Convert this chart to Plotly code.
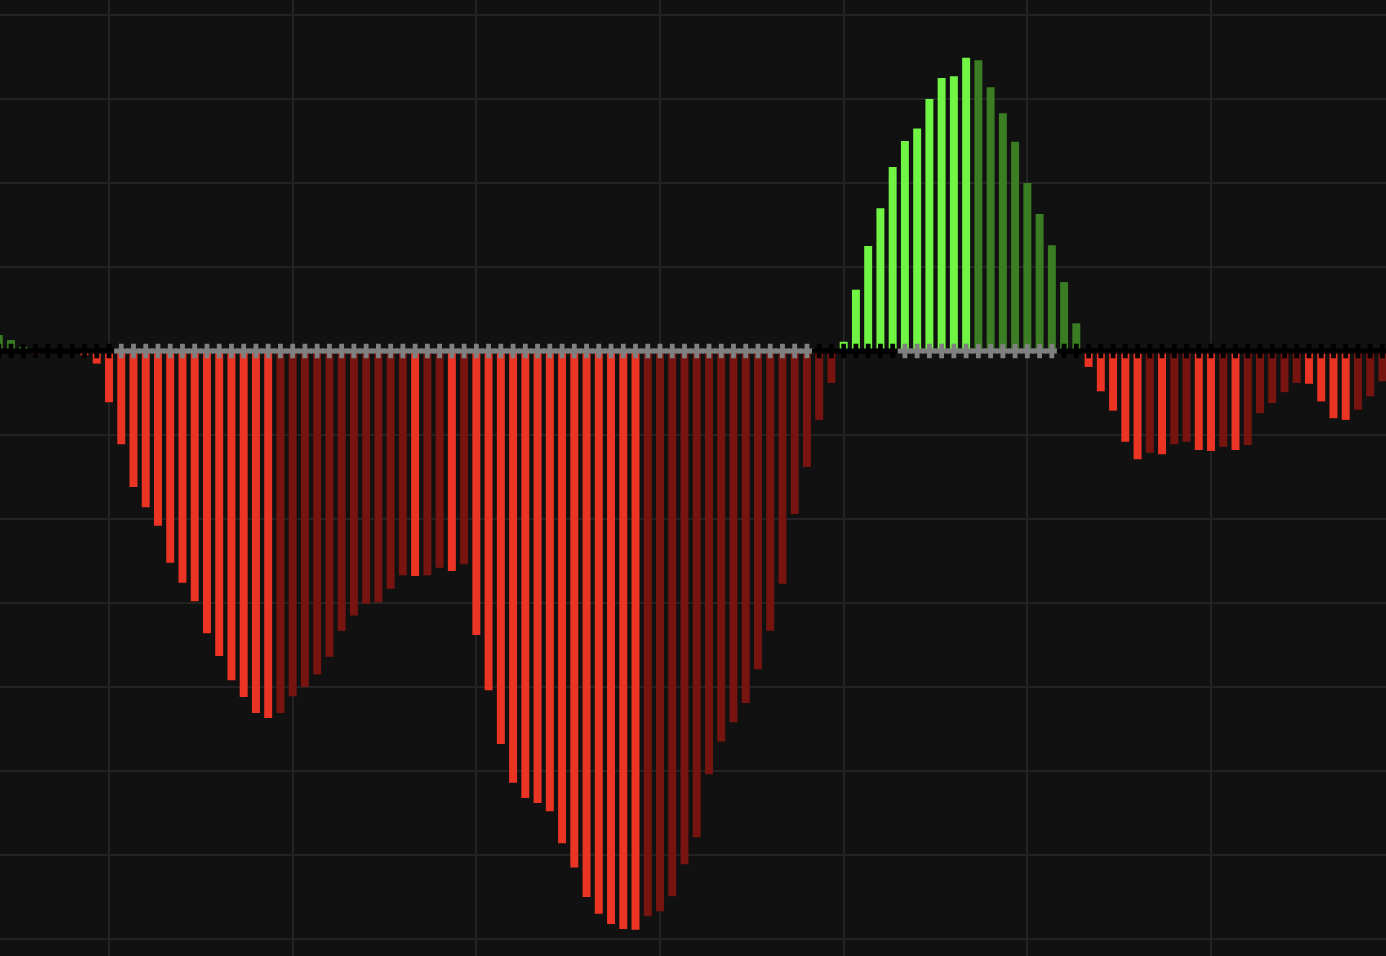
import plotly.graph_objects as go

# Momentum histogram values (one per bar)
momentum = [
    1.9, 1.3, 0.5, -0.3, -0.3, -0.1, -0.1, -0.5, -1.5, -6.1,
    -11.1, -16.2, -18.6, -20.8, -25.2, -27.6, -29.8, -33.6, -36.3, -39.2,
    -41.2, -43.1, -43.7, -43.1, -41.1, -40.0, -38.5, -36.4, -33.3, -31.5,
    -30.1, -29.9, -28.3, -26.7, -26.8, -26.7, -25.8, -26.2, -25.4, -33.8,
    -40.4, -46.8, -51.4, -53.2, -53.8, -54.8, -58.6, -61.5, -65.0, -67.0,
    -68.2, -68.8, -68.9, -67.3, -66.7, -64.9, -61.1, -57.9, -50.4, -46.5,
    -44.2, -41.9, -37.9, -33.3, -27.7, -19.4, -13.8, -8.2, -3.8, 1.1,
    7.3, 12.5, 17.0, 21.9, 25.0, 26.5, 30.0, 32.5, 32.7, 34.9,
    34.6, 31.4, 28.3, 24.9, 20.0, 16.3, 12.6, 8.2, 3.3, -1.9,
    -4.8, -7.1, -10.8, -12.9, -12.1, -12.3, -11.1, -10.8, -11.8, -11.9,
    -11.4, -11.8, -11.2, -7.4, -6.2, -4.9, -3.8, -3.9, -6.0, -8.0,
    -8.2, -7.0, -5.4, -3.6,
]

# Squeeze state per bar (1 = squeeze on / grey cross, 0 = off / black cross)
squeeze_on = [
    0, 0, 0, 0, 0, 0, 0, 0, 0, 0,
    1, 1, 1, 1, 1, 1, 1, 1, 1, 1,
    1, 1, 1, 1, 1, 1, 1, 1, 1, 1,
    1, 1, 1, 1, 1, 1, 1, 1, 1, 1,
    1, 1, 1, 1, 1, 1, 1, 1, 1, 1,
    1, 1, 1, 1, 1, 1, 1, 1, 1, 1,
    1, 1, 1, 1, 1, 1, 1, 0, 0, 0,
    0, 0, 0, 0, 1, 1, 1, 1, 1, 1,
    1, 1, 1, 1, 1, 1, 1, 0, 0, 0,
    0, 0, 0, 0, 0, 0, 0, 0, 0, 0,
    0, 0, 0, 0, 0, 0, 0, 0, 0, 0,
    0, 0, 0, 0,
]

bar_index = list(range(len(momentum)))

BRIGHT_GREEN = "#70f545"
DARK_GREEN = "#3a7d22"
BRIGHT_RED = "#ec3424"
DARK_RED = "#771410"

colors = []
for k, v in enumerate(momentum):
    prev = momentum[k - 1] if k > 0 else v
    if v >= 0:
        colors.append(BRIGHT_GREEN if v > prev else DARK_GREEN)
    else:
        colors.append(BRIGHT_RED if v < prev else DARK_RED)

cross_colors = ["#808080" if s else "#000000" for s in squeeze_on]

fig = go.Figure()
fig.add_trace(go.Bar(
    x=bar_index, y=momentum,
    marker=dict(color=colors, line=dict(width=0)),
    hoverinfo="skip",
))
fig.add_trace(go.Scatter(
    x=bar_index, y=[0] * len(bar_index),
    mode="markers",
    marker=dict(symbol="cross", size=12, color=cross_colors, line=dict(width=0)),
    hoverinfo="skip",
))

fig.update_layout(
    width=1386, height=956,
    margin=dict(l=0, r=0, t=0, b=0),
    paper_bgcolor="#111111", plot_bgcolor="#111111",
    showlegend=False,
    bargap=0.35,
    xaxis=dict(range=[0.098, 113.29], tick0=9, dtick=15, showgrid=True,
               gridcolor="#232323", gridwidth=2, zeroline=False,
               showticklabels=False, ticks=""),
    yaxis=dict(range=[-72.024, 41.786], tick0=0, dtick=10, showgrid=True,
               gridcolor="#232323", gridwidth=2, zeroline=False,
               showticklabels=False, ticks=""),
)

fig.write_html("out.html",
               config={"displayModeBar": False},
               post_script="document.body.style.margin='0';document.body.style.overflow='hidden';")
